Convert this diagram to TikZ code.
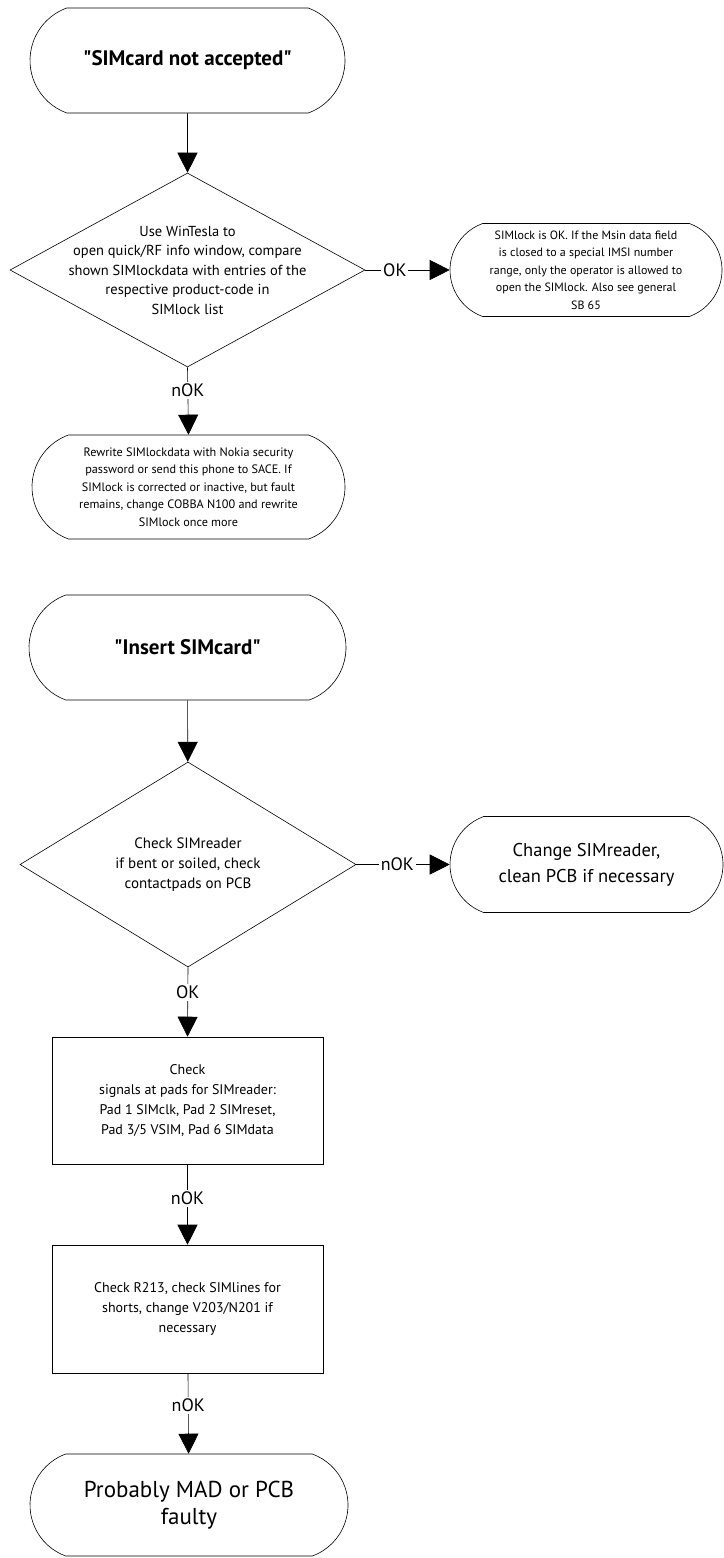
\documentclass[tikz,border=0pt]{standalone}
\usepackage{fontspec}
\setmainfont{PT Sans}
\usetikzlibrary{arrows.meta,shapes.geometric,shapes.misc}

\tikzset{
  term/.style={draw, rounded rectangle, rounded rectangle arc length=140, align=center, inner sep=0pt},
  decision/.style={draw, diamond, inner sep=0pt},
  dtext/.style={align=center, inner sep=0pt},
  process/.style={draw, rectangle, align=center, inner sep=0pt},
  flow/.style={-{Triangle[length=20pt,width=20pt]}},
  answer/.style={fill=white, inner sep=2pt, font=\fontsize{18}{20}\selectfont},
}

\begin{document}
\begin{tikzpicture}[x=1pt, y=-1pt, line width=0.6pt]
        \useasboundingbox (0,0) rectangle (723,1558);

        %% First chart: SIMcard not accepted
        \node[term, minimum width=315pt, minimum height=105pt,
              font=\bfseries\fontsize{21}{24}\selectfont] (notacc) at (187.5,60.5)
              {\textquotedbl SIMcard not accepted\textquotedbl};
        \node[decision, minimum width=355pt, minimum height=194pt,
              label={[dtext, font=\fontsize{14.5}{19.5}\selectfont]center:{Use WinTesla to\\ open quick/RF info window, compare\\ shown SIMlockdata with entries of the\\ respective product-code in\\ SIMlock list}}]
              (lockdata) at (187.5,270) {};
        \node[term, minimum width=272pt, minimum height=93pt,
              font=\fontsize{12}{17.5}\selectfont] (lockok) at (586,270)
              {SIMlock is OK. If the Msin data field\\ is closed to a special IMSI number\\ range, only the operator is allowed to\\ open the SIMlock. Also see general\\ SB 65};
        \node[term, minimum width=313pt, minimum height=104pt,
              font=\fontsize{12.2}{17.5}\selectfont] (rewrite) at (188.5,487)
              {Rewrite SIMlockdata with Nokia security\\ password or send this phone to SACE. If\\ SIMlock is corrected or inactive, but fault\\ remains, change COBBA N100 and rewrite\\ SIMlock once more};

        %% Second chart: Insert SIMcard
        \node[term, minimum width=317pt, minimum height=105pt,
              font=\bfseries\fontsize{21}{24}\selectfont] (insert) at (187.5,647.5)
              {\textquotedbl Insert SIMcard\textquotedbl};
        \node[decision, minimum width=336pt, minimum height=205pt,
              label={[dtext, font=\fontsize{15}{20}\selectfont]center:{Check SIMreader\\ if bent or soiled, check\\ contactpads on PCB}}]
              (reader) at (188,864.5) {};
        \node[term, minimum width=273pt, minimum height=96pt,
              font=\fontsize{18.5}{26}\selectfont] (change) at (586.5,864.5)
              {Change SIMreader,\\ clean PCB if necessary};
        \node[process, minimum width=271pt, minimum height=127pt,
              font=\fontsize{14}{20}\selectfont] (signals) at (187.5,1100.5)
              {Check\\ signals at pads for SIMreader:\\ Pad 1 SIMclk, Pad 2 SIMreset,\\ Pad 3/5 VSIM, Pad 6 SIMdata};
        \node[process, minimum width=271pt, minimum height=128pt,
              font=\fontsize{14}{20}\selectfont] (lines) at (187.5,1309)
              {Check R213, check SIMlines for\\ shorts, change V203/N201 if\\ necessary};
        \node[term, minimum width=318pt, minimum height=102pt,
              font=\fontsize{23}{27}\selectfont] (faulty) at (189,1505)
              {Probably MAD or PCB\\ faulty};

        %% Connectors
        \draw[flow] (notacc) -- (lockdata);
        \draw[flow] (lockdata.east) -- node[answer, pos=0.35] {OK} (lockok.west);
        \draw[flow] (lockdata.south) -- node[answer, pos=0.34] {nOK} (rewrite.north);

        \draw[flow] (insert) -- (reader);
        \draw[flow] (reader.east) -- node[answer, pos=0.44] {nOK} (change.west);
        \draw[flow] (reader.south) -- node[answer, pos=0.36] {OK} (signals.north);
        \draw[flow] (signals) -- node[answer, pos=0.42] {nOK} (lines);
        \draw[flow] (lines) -- node[answer, pos=0.4] {nOK} (faulty);
\end{tikzpicture}
\end{document}
